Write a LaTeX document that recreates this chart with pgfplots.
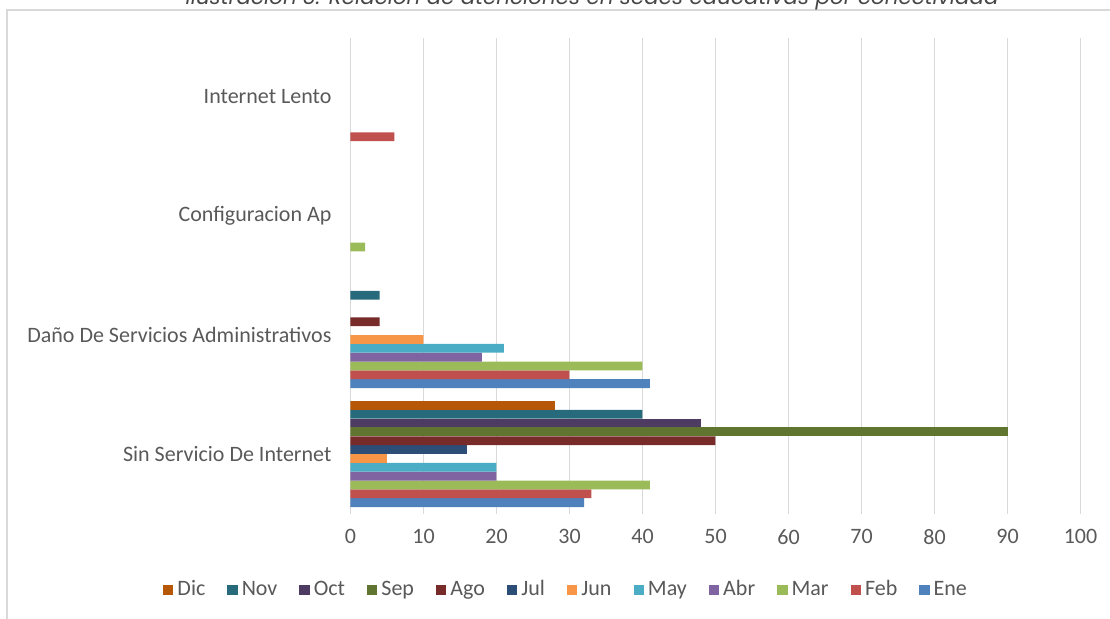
\documentclass[border=0pt]{standalone}
\usepackage{fontspec}
\setmainfont{Carlito}
\newfontfamily\titlefont{Poppins}
\usepackage{pgfplots}
\pgfplotsset{compat=1.18}

\definecolor{txt}{HTML}{595959}
\definecolor{gridc}{HTML}{D9D9D9}
\definecolor{cEne}{HTML}{4F81BD}
\definecolor{cFeb}{HTML}{C0504D}
\definecolor{cMar}{HTML}{9BBB59}
\definecolor{cAbr}{HTML}{8064A2}
\definecolor{cMay}{HTML}{4BACC6}
\definecolor{cJun}{HTML}{F79646}
\definecolor{cJul}{HTML}{2C4D75}
\definecolor{cAgo}{HTML}{772C2A}
\definecolor{cSep}{HTML}{5F7530}
\definecolor{cOct}{HTML}{4D3B62}
\definecolor{cNov}{HTML}{276A7C}
\definecolor{cDic}{HTML}{B65708}

\pgfplotsset{
  /pgfplots/xbar legend/.style={
    /pgfplots/legend image code/.code={\fill[##1,draw=none] (0pt,-2.6pt) rectangle (5.2pt,2.6pt);}},
}

\begin{document}
\begin{tikzpicture}
  \useasboundingbox (0,0) rectangle (555pt,309pt);
  % marco del grafico
  \draw[gridc, line width=0.8pt] (3.5pt,-10pt) -- (3.5pt,304pt) -- (570pt,304pt);
  % titulo (cortado arriba, como en la imagen original)
  \node[anchor=base, text=txt!80!black, font=\titlefont\itshape\fontsize{10.7}{12}\selectfont, inner sep=0pt]
    at (296pt,307pt) {Ilustración 3. Relación de atenciones en sedes educativas por conectividad};

  \begin{axis}[
    at={(175.25pt,52.25pt)}, anchor=south west,
    scale only axis, width=365pt, height=238pt,
    xbar=0pt, bar width=4.42pt,
    xmin=0, xmax=100, ymin=-0.5, ymax=3.5,
    xtick={0,10,...,100},
    ytick={0,1,2,3},
    yticklabels={Sin Servicio De Internet, Daño De Servicios Administrativos, Configuracion Ap, Internet Lento},
    axis line style={draw=none},
    major tick length=0pt,
    xmajorgrids, ymajorgrids=false,
    grid style={gridc, line width=0.6pt},
    tick label style={text=txt, font=\fontsize{11}{13}\selectfont},
    /pgf/number format/assume math mode=true,
    xticklabel style={yshift=-4.5pt},
    yticklabel style={xshift=-6pt},
    legend columns=12,
    reverse legend,
    legend style={draw=none, at={(0.2966,-0.1607)}, anchor=center,
      font=\fontsize{11}{13}\selectfont, text=txt,
      nodes={text height=1.6ex, text depth=0.45ex},
      /tikz/every even column/.append style={column sep=9pt}},
    legend cell align=left,
  ]
    \addplot[fill=cEne, draw=none] coordinates {(32,0) (41,1)};
    \addplot[fill=cFeb, draw=none] coordinates {(33,0) (30,1) (6,3)};
    \addplot[fill=cMar, draw=none] coordinates {(41,0) (40,1) (2,2)};
    \addplot[fill=cAbr, draw=none] coordinates {(20,0) (18,1)};
    \addplot[fill=cMay, draw=none] coordinates {(20,0) (21,1)};
    \addplot[fill=cJun, draw=none] coordinates {(5,0) (10,1)};
    \addplot[fill=cJul, draw=none] coordinates {(16,0)};
    \addplot[fill=cAgo, draw=none] coordinates {(50,0) (4,1)};
    \addplot[fill=cSep, draw=none] coordinates {(90,0)};
    \addplot[fill=cOct, draw=none] coordinates {(48,0)};
    \addplot[fill=cNov, draw=none] coordinates {(40,0) (4,1)};
    \addplot[fill=cDic, draw=none] coordinates {(28,0)};
    \legend{Ene, Feb, Mar, Abr, May, Jun, Jul, Ago, Sep, Oct, Nov, Dic}
  \end{axis}
\end{tikzpicture}
\end{document}
